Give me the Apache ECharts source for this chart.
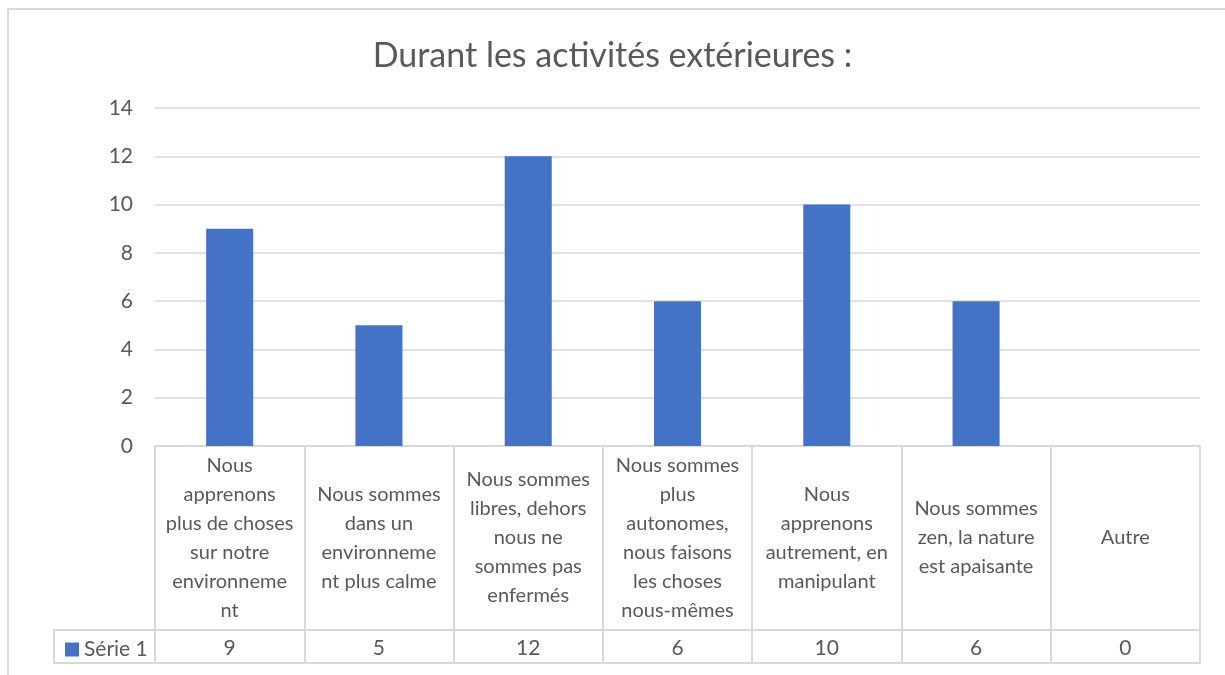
<!DOCTYPE html>
<html>
<head>
<meta charset="utf-8">
<script src="https://cdn.jsdelivr.net/npm/echarts@6/dist/echarts.min.js"></script>
<style>
  html, body { margin: 0; padding: 0; background: #fff; }
  #chart { width: 1225px; height: 675px; }
</style>
</head>
<body>
<div id="chart"></div>
<script>
// données
const categories = [
  'Nous\napprenons\nplus de choses\nsur notre\nenvironneme\nnt',
  'Nous sommes\ndans un\nenvironneme\nnt plus calme',
  'Nous sommes\nlibres, dehors\nnous ne\nsommes pas\nenfermés',
  'Nous sommes\nplus\nautonomes,\nnous faisons\nles choses\nnous-mêmes',
  'Nous\napprenons\nautrement, en\nmanipulant',
  'Nous sommes\nzen, la nature\nest apaisante',
  'Autre'
]
const serieName = 'Série 1'
const values = [9, 5, 12, 6, 10, 6, 0]
const yTicks = { min: 0, max: 14, interval: 2 }

const font = 'Lato, "Open Sans", sans-serif'
const textColor = '#595959'
const lineColor = '#d9d9d9'

let chart = echarts.init(document.getElementById('chart'))
chart.setOption({
  backgroundColor: '#fff',
  animation: false,
  title: {
    text: 'Durant les activités extérieures :',
    left: 'center',
    top: 34,
    textStyle: { fontFamily: font, fontSize: 34, fontWeight: 'normal', color: textColor }
  },
  legend: {
    data: [serieName],
    left: 60,
    top: 634,
    icon: 'rect',
    itemWidth: 14,
    itemHeight: 14,
    textStyle: { fontFamily: font, fontSize: 21, color: textColor }
  },
  grid: [
    { left: 155, right: 25, top: 108, bottom: 229 },
    { left: 155, right: 25, top: 630, height: 33 }
  ],
  xAxis: [
    {
      type: 'category',
      gridIndex: 0,
      data: categories,
      axisLine: { lineStyle: { color: lineColor, width: 2 } },
      axisTick: { show: true, length: 217, lineStyle: { color: lineColor, width: 2 } },
      axisLabel: {
        margin: 92,
        interval: 0,
        verticalAlign: 'middle',
        lineHeight: 29,
        fontFamily: font,
        fontSize: 20,
        color: textColor
      }
    },
    {
      type: 'category',
      gridIndex: 1,
      position: 'bottom',
      data: values.map(String),
      axisLine: { lineStyle: { color: lineColor, width: 2 } },
      axisTick: { show: false },
      axisLabel: {
        margin: -15,
        verticalAlign: 'middle',
        interval: 0,
        fontFamily: font,
        fontSize: 21,
        color: textColor
      }
    },
    {
      type: 'category',
      gridIndex: 1,
      position: 'top',
      data: values.map(String),
      axisLine: { lineStyle: { color: lineColor, width: 2 } },
      axisTick: { show: false },
      axisLabel: { show: false }
    }
  ],
  yAxis: [
    {
      type: 'value',
      gridIndex: 0,
      min: yTicks.min,
      max: yTicks.max,
      interval: yTicks.interval,
      axisLine: { show: false },
      axisTick: { show: false },
      splitLine: { lineStyle: { color: lineColor, width: 1.5 } },
      axisLabel: { margin: 22, fontFamily: font, fontSize: 21, color: textColor }
    },
    {
      type: 'value',
      gridIndex: 1,
      show: false
    }
  ],
  graphic: [
    {
      type: 'rect',
      shape: { x: 8, y: 9, width: 1240, height: 700 },
      style: { fill: 'none', stroke: lineColor, lineWidth: 2 },
      silent: true
    },
    {
      type: 'polyline',
      shape: { points: [[155, 630], [54, 630], [54, 663], [155, 663]] },
      style: { fill: 'none', stroke: lineColor, lineWidth: 2 },
      silent: true
    }
  ],
  series: [
    {
      name: serieName,
      type: 'bar',
      xAxisIndex: 0,
      yAxisIndex: 0,
      data: values,
      barWidth: '31.5%',
      itemStyle: { color: '#4472c4' }
    }
  ]
})
</script>
</body>
</html>
